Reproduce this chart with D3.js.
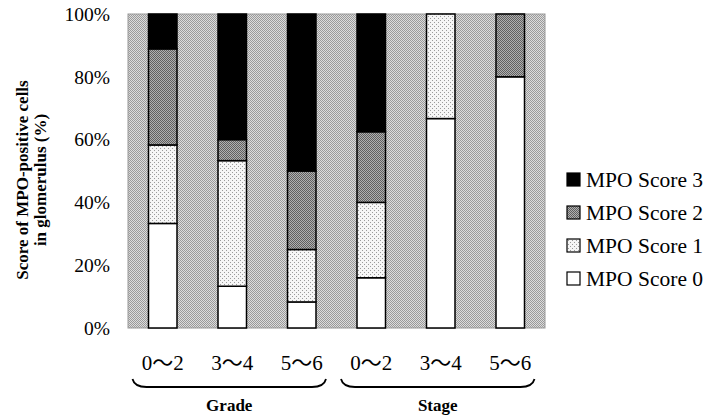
<!DOCTYPE html>
<html>
<head>
<meta charset="utf-8">
<script src="https://cdn.jsdelivr.net/npm/d3@7"></script>
<style>
  body { margin: 0; background: #fff; }
  svg text { font-family: "Liberation Serif", "DejaVu Serif", serif; fill: #000; }
</style>
</head>
<body>
<div id="chart"></div>
<script>
// data (percent of glomeruli per MPO score)
const categories = ["0～2", "3～4", "5～6", "0～2", "3～4", "5～6"];
const groups = ["Grade", "Stage"];
const seriesNames = ["MPO Score 0", "MPO Score 1", "MPO Score 2", "MPO Score 3"];
const score0 = [33.3, 13.3, 8.3, 16.0, 66.7, 80.0];
const score1 = [25.0, 40.0, 16.7, 24.0, 33.3, 0];
const score2 = [30.6, 6.7, 25.0, 22.5, 0, 20.0];
const score3 = [11.1, 40.0, 50.0, 37.5, 0, 0];
const yTicks = [0, 20, 40, 60, 80, 100];

const W = 724, H = 418;
const plot = { left: 128, right: 545, top: 14, bottom: 328 };
const serif = '"Liberation Serif", "DejaVu Serif", serif';

const svg = d3.select("#chart").append("svg")
    .attr("width", W).attr("height", H);

// halftone-ish fills
const defs = svg.append("defs");
function dotPattern(id, bg, dot, size, r) {
    const p = defs.append("pattern").attr("id", id)
        .attr("patternUnits", "userSpaceOnUse")
        .attr("width", size).attr("height", size);
    p.append("rect").attr("width", size).attr("height", size).attr("fill", bg);
    p.append("rect").attr("x", 0).attr("y", 0).attr("width", r).attr("height", r).attr("fill", dot);
    p.append("rect").attr("x", size / 2).attr("y", size / 2).attr("width", r).attr("height", r).attr("fill", dot);
}
dotPattern("bgPat", "#dcdcdc", "#9a9a9a", 2, 1);
dotPattern("s2Pat", "#b0b0b0", "#606060", 2, 1);
dotPattern("s1Pat", "#f6f6f6", "#9a9a9a", 4, 1);
const fills = ["#ffffff", "url(#s1Pat)", "url(#s2Pat)", "#000000"];

const x = d3.scaleBand()
    .domain(d3.range(categories.length))
    .range([plot.left, plot.right])
    .paddingInner(0.59)
    .paddingOuter(0.295);

const y = d3.scaleLinear().domain([0, 100]).range([plot.bottom, plot.top]);

// plot background
svg.append("rect")
    .attr("x", plot.left).attr("y", plot.top)
    .attr("width", plot.right - plot.left).attr("height", plot.bottom - plot.top)
    .attr("fill", "url(#bgPat)")
    .attr("stroke", "#999").attr("stroke-width", 1);

// stacked bars
const rows = categories.map((c, i) => ({ i, s0: score0[i], s1: score1[i], s2: score2[i], s3: score3[i] }));
const stack = d3.stack().keys(["s0", "s1", "s2", "s3"]);
const layers = stack(rows);

layers.forEach((layer, k) => {
    svg.append("g").selectAll("rect")
        .data(layer.filter(d => d[1] - d[0] > 0))
        .join("rect")
        .attr("x", d => x(d.data.i))
        .attr("width", x.bandwidth())
        .attr("y", d => y(d[1]))
        .attr("height", d => y(d[0]) - y(d[1]))
        .attr("fill", fills[k])
        .attr("stroke", "#000")
        .attr("stroke-width", 1.5);
});

// y axis labels
const yAxis = d3.axisLeft(y).tickValues(yTicks).tickSize(0).tickPadding(18)
    .tickFormat(d => d + "%");
const ya = svg.append("g").attr("transform", `translate(${plot.left},0)`).call(yAxis)
    .attr("font-family", serif).attr("font-size", 19.5);
ya.select(".domain").remove();
ya.selectAll("text").attr("fill", "#000");

// y title
const yt = svg.append("text")
    .attr("transform", "translate(31,180) rotate(-90)")
    .attr("text-anchor", "middle")
    .style("font-family", serif)
    .style("font-size", "17px").style("font-weight", "bold");
yt.append("tspan").attr("x", 0).attr("dy", "-0.2em").text("Score of MPO-positive cells");
yt.append("tspan").attr("x", 0).attr("dy", "1.1em").text("in glomerulus (%)");

// x category labels
svg.append("g").selectAll("text")
    .data(categories)
    .join("text")
    .attr("x", (d, i) => x(i) + x.bandwidth() / 2)
    .attr("y", 370)
    .attr("text-anchor", "middle")
    .style("font-family", '"Liberation Serif", "DejaVu Serif", "Noto Sans CJK JP", serif')
    .style("font-size", "21px")
    .text(d => d);

// group braces and labels
groups.forEach((g, gi) => {
    const a = x(gi * 3) - 16;
    const b = x(gi * 3 + 2) + x.bandwidth() + 10;
    svg.append("path")
        .attr("d", `M${a},379 Q${a + 2},387 ${a + 14},387 L${b - 14},387 Q${b - 2},387 ${b},379`)
        .attr("fill", "none").attr("stroke", "#000").attr("stroke-width", 1.8);
    svg.append("text")
        .attr("x", (a + b) / 2).attr("y", 411)
        .attr("text-anchor", "middle")
        .style("font-family", serif)
        .style("font-size", "17px").style("font-weight", "bold")
        .text(g);
});

// legend (Score 3 on top)
const legend = svg.append("g");
[3, 2, 1, 0].forEach((k, j) => {
    const cy = 180 + j * 33;
    legend.append("rect")
        .attr("x", 567).attr("y", cy - 7).attr("width", 13).attr("height", 13)
        .attr("fill", fills[k]).attr("stroke", "#000").attr("stroke-width", 1.2);
    legend.append("text")
        .attr("x", 586).attr("y", cy + 7)
        .style("font-family", serif)
        .style("font-size", "21.5px")
        .text(seriesNames[k]);
});
</script>
</body>
</html>
